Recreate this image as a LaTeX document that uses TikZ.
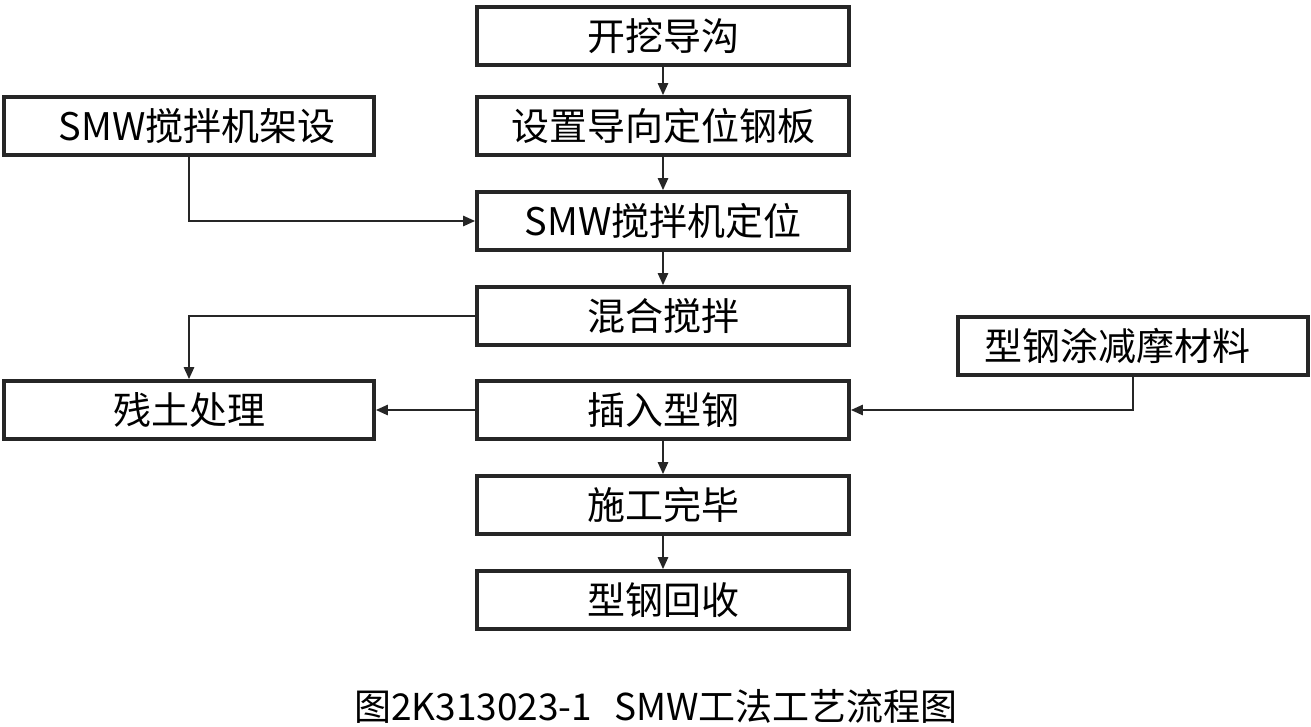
\documentclass[tikz,border=0pt]{standalone}
\usepackage{fontspec}
\setmainfont{Noto Sans CJK SC}
\usetikzlibrary{arrows.meta}
\begin{document}
\begin{tikzpicture}[x=1pt,y=-1pt,
  box/.style={draw=black!85,line width=3.6pt,minimum height=58pt,inner sep=0pt,font=\fontsize{38}{40}\selectfont},
  mainbox/.style={box,minimum width=372pt},
  sidebox/.style={box,minimum width=370pt},
  conn/.style={draw=black!85,line width=2.4pt,-{Triangle[length=12pt,width=10pt]}}]
\useasboundingbox[fill=white] (0,0) rectangle (1311,726);
\node[mainbox] (b1) at (663,36) {开挖导沟};
\node[mainbox] (b2) at (663,126) {设置导向定位钢板};
\node[mainbox] (b3) at (663,221) {SMW搅拌机定位};
\node[mainbox] (b4) at (663,316) {混合搅拌};
\node[mainbox] (b5) at (663,410) {插入型钢};
\node[mainbox] (b6) at (663,505) {施工完毕};
\node[mainbox] (b7) at (663,600) {型钢回收};
\node[sidebox] (l1) at (189,126) {\hspace{16pt}SMW搅拌机架设};
\node[sidebox] (l2) at (189,410) {残土处理};
\node[box,minimum width=350pt] (r1) at (1133,346) {型钢涂减摩材料\rule{32pt}{0pt}};
\node[font=\fontsize{37}{39}\selectfont] (cap) at (656,706) {图2K313023-1\hspace{0.6em}SMW工法工艺流程图};
\draw[conn] (b1) -- (b2);
\draw[conn] (b2) -- (b3);
\draw[conn] (b3) -- (b4);
\draw[conn] (b5) -- (b6);
\draw[conn] (b6) -- (b7);
\draw[conn] (l1.south) |- (b3.west);
\draw[conn] (b4.west) -| (l2.north);
\draw[conn] (b5.west) -- (l2.east);
\draw[conn] (r1.south) |- (b5.east);
\end{tikzpicture}
\end{document}
